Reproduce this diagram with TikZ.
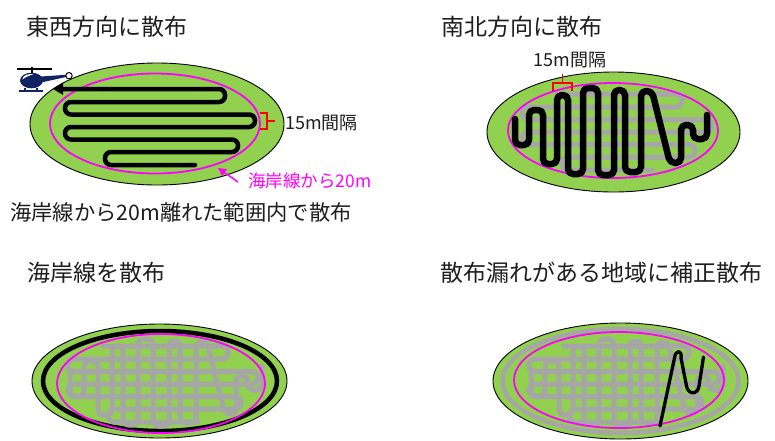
\documentclass[tikz,border=0pt]{standalone}
\usepackage{fontspec}
\setmainfont{Noto Sans CJK JP}
\usetikzlibrary{arrows.meta}

\definecolor{landgreen}{RGB}{146,208,80}
\definecolor{coastpink}{RGB}{255,0,255}
\definecolor{tracegray}{RGB}{166,166,166}
\definecolor{heliblue}{RGB}{16,36,100}
\definecolor{inkgray}{RGB}{30,30,30}

% east-west flight line; #1 = draw options, #2 = x where the top row ends
\newcommand\EWtrace[2]{%
  \draw[#1] (195,165) -- (105,165) -- (105,152) -- (238,152) -- (238,139.5)
    -- (65,139.5) -- (65,127) -- (255,127) -- (255,114.5) -- (65,114.5)
    -- (65,102) -- (225,102) -- (225,89) -- (#2,89);}

% north-south flight line; #1 = draw options
\newcommand\NStrace[1]{%
  \draw[#1] (515,119) -- (515,145) -- (529,145) -- (529,110) -- (543,110)
    -- (543,164) -- (557,164) -- (557,95) -- (568,95) -- (568,174)
    -- (583,174) -- (583,88) -- (598,88) -- (598,175) -- (614,175)
    -- (614,90) -- (625,90) -- (625,172) -- (641,172) -- (641,91)
    -- (652,91) -- (670,163) -- (681,163) -- (681,125) -- (693,125)
    -- (693,139) -- (707,139) -- (707,115);}

\begin{document}
\begin{tikzpicture}[x=1pt,y=-1pt,
  land/.style={fill=landgreen,draw=black,line width=0.9pt},
  coast/.style={draw=coastpink,line width=1.8pt},
  flight/.style={draw=black,line width=4.5pt,line cap=round,line join=round,rounded corners=6pt},
  flightns/.style={draw=black,line width=6.5pt,line cap=round,line join=round,rounded corners=5pt},
  oldew/.style={draw=tracegray,line width=5pt,line cap=round,line join=round,rounded corners=6pt},
  oldns/.style={draw=tracegray,line width=5pt,line cap=round,line join=round,rounded corners=5pt},
  gap/.style={draw=red,line width=1.8pt},
  title/.style={anchor=west,inner sep=0pt,text=inkgray,font=\fontsize{23}{27}\selectfont},
  note/.style={anchor=west,inner sep=0pt,text=inkgray,font=\fontsize{18}{22}\selectfont},
]
\useasboundingbox (0,0) rectangle (775,440);
\fill[white] (0,0) rectangle (775,440);

% ---------- east-west spraying ----------
\node[title] (tEW) at (26,27) {東西方向に散布};
\fill[land] (157,124) ellipse [x radius=127pt, y radius=61pt];
\draw[coast] (155,123.5) ellipse [x radius=105pt, y radius=50pt];
\EWtrace{flight,-{Triangle[length=10pt,width=11pt]}}{53}
\draw[gap] (260,113) -- (267,113) -- (267,129) -- (260,129);
\draw[gap] (267,121) -- (275,121);
\node[note] (gapA) at (285,123) {15m間隔};
\node[anchor=west,inner sep=0pt,text=coastpink,font=\fontsize{17.5}{21}\selectfont]
  (lblcoast) at (248,181) {海岸線から20m};
\coordinate (coastA) at (218,168);
\coordinate (tailA) at (238,182);
\draw[coastpink,line width=1.5pt,-{Triangle[length=8pt,width=8pt]}] (tailA) -- (coastA);

% helicopter
\draw[black,line width=1.2pt] (17,69) -- (52,69);
\draw[black,line width=1.2pt] (32,66.5) -- (32,73);
\fill[heliblue] (41,76.5) -- (66,74.8) -- (66,77) -- (41,82.5) -- cycle;
\fill[heliblue] (31.5,80.5) ellipse [x radius=11.5pt, y radius=7.8pt];
\fill[white] (22.3,79.5) .. controls (23,74.8) and (28,73.8) .. (33.5,74.2)
  .. controls (29,75.6) and (25.2,77.2) .. (22.3,79.5) -- cycle;
\draw[heliblue,line width=1.3pt] (19,91) -- (43,91);
\draw[heliblue,line width=1.2pt] (25,87.5) -- (25,91) (37,87.5) -- (37,91);
\draw[black,fill=white,line width=1pt] (69,75.7) circle [radius=3.2pt];

\node[anchor=west,inner sep=0pt,text=inkgray,font=\fontsize{21.3}{25}\selectfont]
  (tRange) at (10,212) {海岸線から20m離れた範囲内で散布};

% ---------- north-south spraying ----------
\node[title] (tNS) at (441,27) {南北方向に散布};
\fill[land] (613.5,132) ellipse [x radius=126.5pt, y radius=60pt];
\begin{scope}[shift={(457,5)}]
  \EWtrace{oldew}{100}
\end{scope}
\draw[coast] (613,130.5) ellipse [x radius=105pt, y radius=47.5pt];
\NStrace{flightns}
\draw[gap] (553,91) -- (553,83) -- (572,83) -- (572,91);
\draw[gap] (562.5,83) -- (562.5,74);
\node[note,anchor=center] (gapB) at (570,60) {15m間隔};

% ---------- coastline spraying ----------
\node[title] (tCoast) at (27,273) {海岸線を散布};
\fill[land] (159.5,381) ellipse [x radius=127.5pt, y radius=57pt];
\draw[black,line width=4.5pt] (160,381) ellipse [x radius=117pt, y radius=50pt];
\begin{scope}[shift={(3,257)}]
  \EWtrace{oldew}{100}
\end{scope}
\begin{scope}[shift={(-445,251)}]
  \NStrace{oldns}
\end{scope}
\draw[coast] (161,383.5) ellipse [x radius=104pt, y radius=49.5pt];

% ---------- touch-up spraying ----------
\node[title] (tFix) at (440,273) {散布漏れがある地域に補正散布};
\fill[land] (620.5,381) ellipse [x radius=127.5pt, y radius=58pt];
\draw[tracegray,line width=4.5pt] (620.5,381) ellipse [x radius=118pt, y radius=52pt];
\begin{scope}[shift={(464,257)}]
  \EWtrace{oldew}{100}
\end{scope}
\begin{scope}[shift={(16,251)}]
  \NStrace{oldns}
\end{scope}
\draw[coast] (619,380) ellipse [x radius=105pt, y radius=48pt];
\draw[black,line width=3.3pt,line cap=round,line join=round]
  (660,426) -- (674.5,358) .. controls (675.5,349.5) and (682.5,349.5) .. (681,358)
  -- (686.5,386) .. controls (688,395) and (698,395) .. (699,386) -- (703.5,357);
\end{tikzpicture}
\end{document}
